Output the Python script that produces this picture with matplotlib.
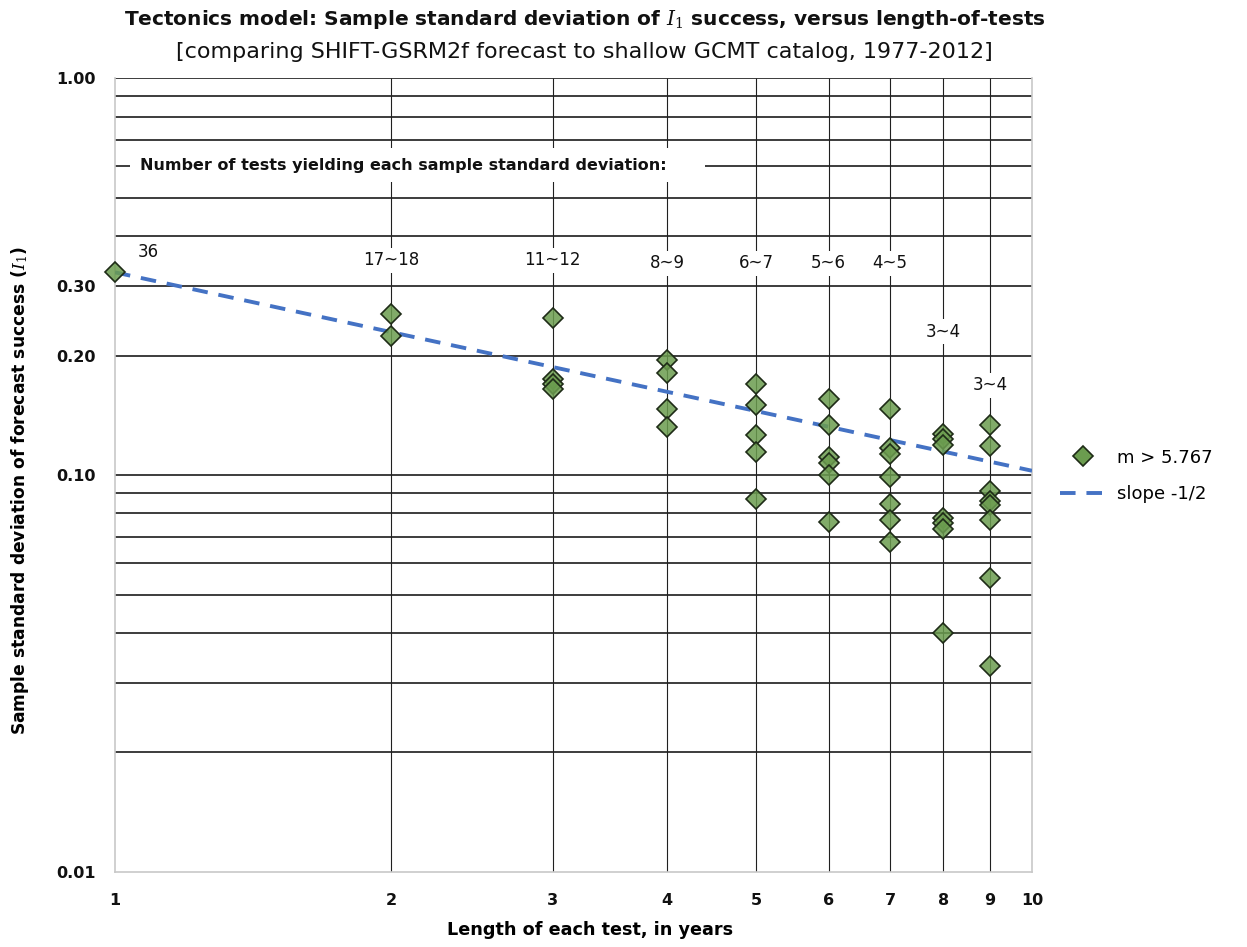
import matplotlib
matplotlib.use("Agg")
import matplotlib.pyplot as plt
from matplotlib.lines import Line2D

plt.rcParams['font.family'] = ['DejaVu Sans']
plt.rcParams['mathtext.fontset'] = 'dejavuserif'

# test length (years) and sample std dev of I1 success, one list per length
years = [1, 2, 3, 4, 5, 6, 7, 8, 9]
std_by_year = [
    [0.324],
    [0.254, 0.224],
    [0.248, 0.175, 0.170, 0.165],
    [0.195, 0.181, 0.147, 0.132],
    [0.170, 0.150, 0.126, 0.114, 0.087],
    [0.155, 0.134, 0.111, 0.107, 0.100, 0.076],
    [0.147, 0.117, 0.113, 0.099, 0.0845, 0.077, 0.068],
    [0.127, 0.123, 0.119, 0.078, 0.0755, 0.073, 0.040],
    [0.134, 0.118, 0.091, 0.086, 0.084, 0.077, 0.055, 0.033],
]

# number of tests per length (annotation text and where it sits)
count_labels = ["36", "17~18", "11~12", "8~9", "6~7", "5~6", "4~5", "3~4", "3~4"]
count_x = [1.086, 2, 3, 4, 5, 6, 7, 8, 9]
count_y = [0.364, 0.348, 0.348, 0.342, 0.342, 0.342, 0.342, 0.2296, 0.1685]

# reference line with slope -1/2
slope_x = [1, 10]
slope_y = [0.324, 0.1025]

y_ticks = [0.01, 0.1, 0.2, 0.3, 1.0]
y_ticklabels = ["0.01", "0.10", "0.20", "0.30", "1.00"]
x_ticks = [1, 2, 3, 4, 5, 6, 7, 8, 9, 10]
h_grid = [0.02, 0.03, 0.04, 0.05, 0.06, 0.07, 0.08, 0.09,
          0.1, 0.2, 0.3, 0.4, 0.5, 0.6, 0.7, 0.8, 0.9, 1.0]
v_grid = [2, 3, 4, 5, 6, 7, 8, 9]

fig = plt.figure(figsize=(12.47, 9.47), dpi=100)
ax = fig.add_axes([0.0922, 0.0792, 0.7354, 0.8384])
ax.set_xscale('log')
ax.set_yscale('log')
ax.set_xlim(1, 10)
ax.set_ylim(0.01, 1.0)

ax.hlines(h_grid, 1, 10, colors='#3c3c3c', linewidth=1.4, zorder=1)
ax.vlines(v_grid, 0.01, 1.0, colors='#202020', linewidth=0.8, zorder=1)

for sp in ax.spines.values():
    sp.set_color('#c8c8c8')
    sp.set_linewidth(1.2)
ax.spines['top'].set_visible(False)

ax.plot(slope_x, slope_y, color='#4472c4', linewidth=2.8, linestyle=(0, (4, 2.8)),
        zorder=3, label='slope -1/2')

xs = [yr for yr, vals in zip(years, std_by_year) for _ in vals]
ys = [v for vals in std_by_year for v in vals]
ax.plot(xs, ys, linestyle='none', marker='D', markersize=10.5,
        markerfacecolor=(0.42, 0.61, 0.31, 0.85), markeredgecolor='#1e2b17',
        markeredgewidth=1.2, zorder=4, clip_on=False, label='m > 5.767')

for lab, tx, ty in zip(count_labels, count_x, count_y):
    ax.text(tx, ty, lab, ha='center', va='center', fontsize=12, color='#111111',
            zorder=5, bbox=dict(facecolor='white', edgecolor='none', pad=2.5))

ax.text(1.065, 0.603, "Number of tests yielding each sample standard deviation:     ",
        ha='left', va='center', fontsize=11.5, fontweight='bold', color='#111111', zorder=5,
        bbox=dict(facecolor='white', edgecolor='none', pad=7))

ax.set_yticks(y_ticks)
ax.set_yticklabels(y_ticklabels)
ax.set_xticks(x_ticks)
ax.set_xticklabels([str(t) for t in x_ticks])
ax.minorticks_off()
ax.tick_params(axis='both', length=0, labelsize=11.5, colors='#111111')
ax.tick_params(axis='x', pad=15)
ax.tick_params(axis='y', pad=14)
for lbl in ax.get_xticklabels() + ax.get_yticklabels():
    lbl.set_fontweight('bold')

ax.set_xlabel("Length of each test, in years", fontsize=12.7, fontweight='bold')
ax.xaxis.set_label_coords(0.518, -0.062)
ax.set_ylabel(r"Sample standard deviation of forecast success ($I_1$)", fontsize=12.3,
              fontweight='bold')
ax.yaxis.set_label_coords(-0.092, 0.48)

fig.text(0.469, 0.979, r"Tectonics model: Sample standard deviation of $I_1$ success, versus length-of-tests",
         ha='center', va='center', fontsize=14.5, fontweight='bold', color='#111111')
fig.text(0.469, 0.945, "[comparing SHIFT-GSRM2f forecast to shallow GCMT catalog, 1977-2012]",
         ha='center', va='center', fontsize=16, color='#111111')

handles = [
    Line2D([], [], linestyle='none', marker='D', markersize=10.5,
           markerfacecolor=(0.42, 0.61, 0.31), markeredgecolor='#1e2b17', markeredgewidth=1.2),
    Line2D([], [], color='#4472c4', linewidth=2.8, linestyle=(0, (4, 2.8))),
]
ax.legend(handles, ['m > 5.767', 'slope -1/2'], loc='center left',
          bbox_to_anchor=(1.03, 0.499), frameon=False, fontsize=13,
          handlelength=2.6, handletextpad=0.6, labelspacing=1.0,
          borderaxespad=0, borderpad=0)

fig.savefig("out.png", dpi=100)
